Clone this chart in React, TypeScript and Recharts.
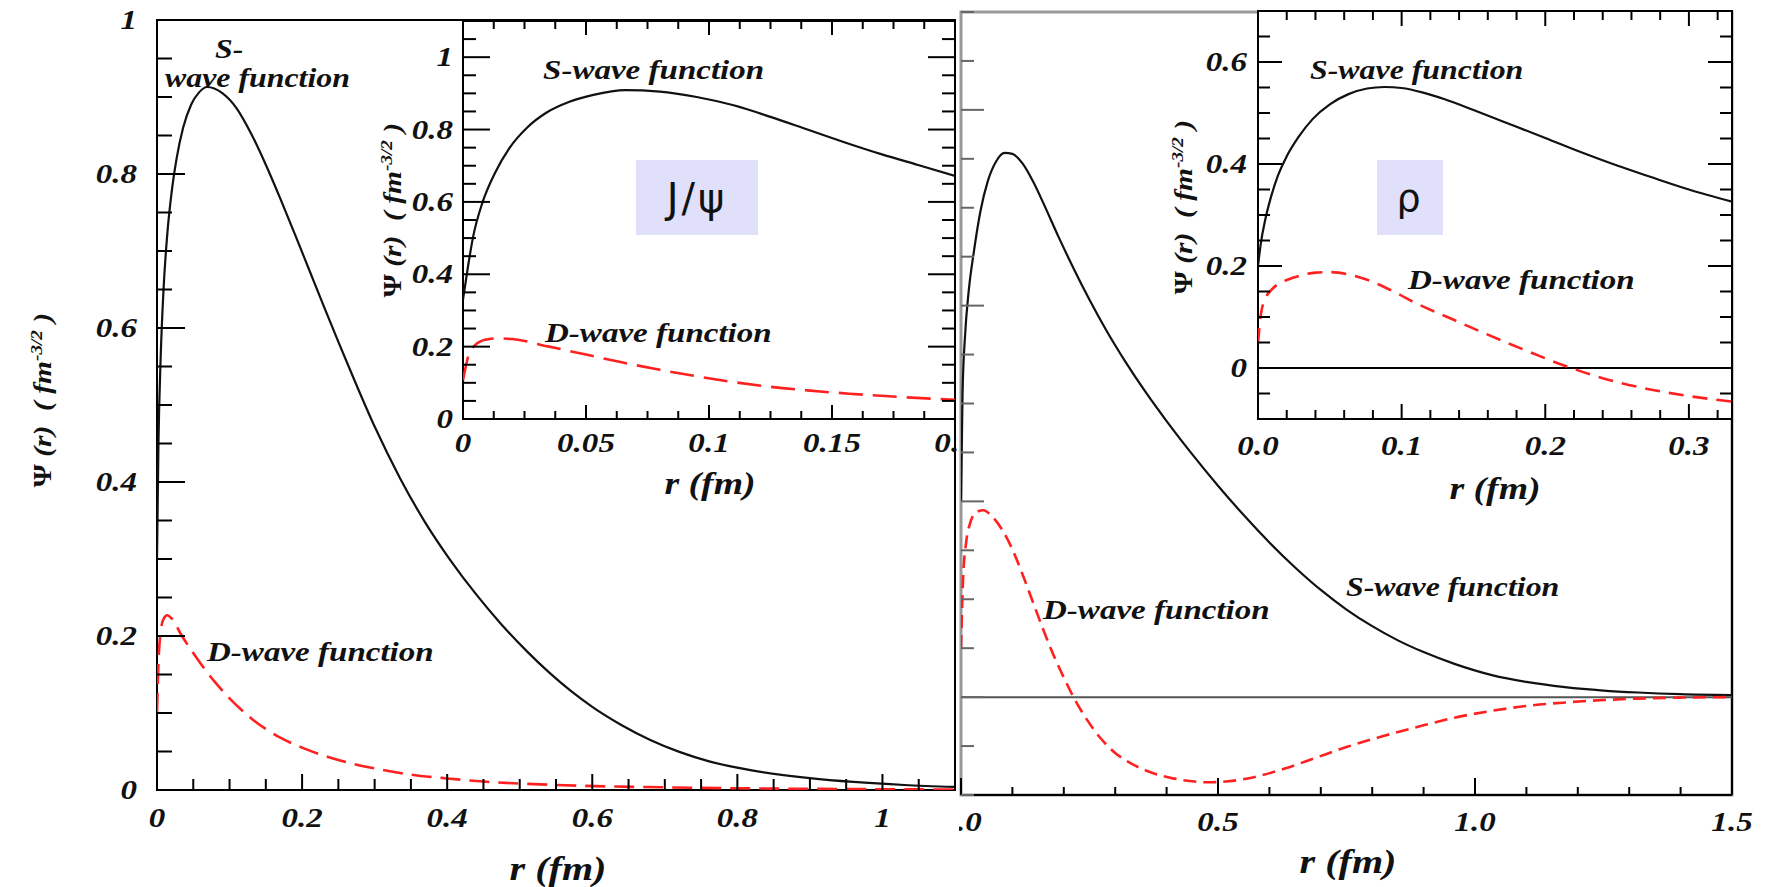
import { LineChart, Line, XAxis, YAxis, ReferenceArea, ReferenceLine, CartesianGrid } from "recharts";

// ---- J/psi wave functions, full range (r in fm, psi in fm^-3/2)
const jpsiS = [
  [0, 0.3], [0.002, 0.45], [0.005, 0.56], [0.009, 0.65], [0.014, 0.72], [0.02, 0.775], [0.027, 0.82],
  [0.036, 0.86], [0.047, 0.89], [0.058, 0.906], [0.069, 0.913], [0.09, 0.905], [0.11, 0.885],
  [0.13, 0.852], [0.15, 0.812], [0.17, 0.768], [0.19, 0.722], [0.21, 0.675], [0.23, 0.628],
  [0.25, 0.582], [0.27, 0.537], [0.3, 0.472], [0.335, 0.405], [0.37, 0.347], [0.404, 0.299],
  [0.44, 0.254], [0.473, 0.217], [0.51, 0.18], [0.54, 0.153], [0.57, 0.129], [0.6, 0.108],
  [0.64, 0.0845], [0.68, 0.065], [0.72, 0.0495], [0.76, 0.0375], [0.82, 0.0255], [0.9, 0.0155],
  [0.96, 0.0105], [1.03, 0.0065], [1.1, 0.004],
];
const jpsiD = [
  [0, 0.1], [0.002, 0.165], [0.005, 0.205], [0.009, 0.222], [0.014, 0.227], [0.02, 0.223],
  [0.035, 0.199], [0.05, 0.178], [0.065, 0.158], [0.08, 0.14], [0.1, 0.119], [0.13, 0.093],
  [0.17, 0.068], [0.2, 0.055], [0.25, 0.039], [0.3, 0.028], [0.35, 0.02], [0.4, 0.015],
  [0.45, 0.011], [0.55, 0.0065], [0.7, 0.0035], [0.85, 0.0018], [1.0, 0.001], [1.1, 0.0006],
];

// ---- J/psi inset (short range)
const jpsiInsetS = [
  [0, 0.33], [0.002, 0.42], [0.004, 0.5], [0.008, 0.6], [0.013, 0.68], [0.019, 0.75], [0.026, 0.805],
  [0.034, 0.847], [0.043, 0.876], [0.053, 0.896], [0.066, 0.909], [0.08, 0.905], [0.095, 0.89],
  [0.11, 0.867], [0.125, 0.835], [0.14, 0.8], [0.155, 0.765], [0.17, 0.732], [0.185, 0.702], [0.2, 0.672],
];
const jpsiInsetD = [
  [0, 0.107], [0.002, 0.17], [0.005, 0.205], [0.009, 0.219], [0.014, 0.223], [0.02, 0.221],
  [0.035, 0.2], [0.05, 0.178], [0.065, 0.156], [0.08, 0.136], [0.095, 0.118], [0.11, 0.102],
  [0.125, 0.089], [0.14, 0.079], [0.157, 0.07], [0.18, 0.06], [0.2, 0.053],
];

// ---- rho wave functions, full range
const rhoS = [
  [0, 0.2], [0.003, 0.31], [0.008, 0.37], [0.015, 0.415], [0.025, 0.455], [0.038, 0.497],
  [0.052, 0.527], [0.068, 0.547], [0.085, 0.556], [0.1, 0.555], [0.12, 0.545], [0.14, 0.527],
  [0.16, 0.505], [0.19, 0.47], [0.22, 0.437], [0.25, 0.406], [0.284, 0.3735], [0.32, 0.3425],
  [0.36, 0.311], [0.4, 0.282], [0.45, 0.248], [0.5, 0.216], [0.55, 0.186], [0.6, 0.158],
  [0.65, 0.1325], [0.7, 0.1095], [0.75, 0.0895], [0.8, 0.0725], [0.85, 0.058], [0.9, 0.046],
  [0.96, 0.034], [1.033, 0.0225], [1.1, 0.0155], [1.175, 0.0102], [1.25, 0.0067], [1.317, 0.0047],
  [1.4, 0.003], [1.5, 0.002],
];
const rhoD = [
  [0, 0.05], [0.004, 0.12], [0.01, 0.158], [0.018, 0.178], [0.03, 0.189], [0.043, 0.191],
  [0.06, 0.185], [0.08, 0.171], [0.1, 0.151], [0.12, 0.125], [0.14, 0.097], [0.16, 0.069],
  [0.18, 0.043], [0.2, 0.02], [0.218, 0.001], [0.245, -0.023], [0.27, -0.041], [0.3, -0.057],
  [0.335, -0.069], [0.37, -0.077], [0.412, -0.083], [0.45, -0.086], [0.479, -0.087], [0.52, -0.086],
  [0.576, -0.081], [0.63, -0.073], [0.69, -0.062], [0.75, -0.051], [0.82, -0.04], [0.891, -0.03],
  [0.96, -0.021], [1.033, -0.014], [1.1, -0.009], [1.175, -0.0055], [1.25, -0.003], [1.317, -0.0015],
  [1.4, -0.0005], [1.5, 0],
];

// ---- rho inset (short range)
const rhoInsetS = [
  [0, 0.2], [0.002, 0.245], [0.005, 0.29], [0.009, 0.335], [0.014, 0.378], [0.02, 0.415],
  [0.028, 0.452], [0.038, 0.488], [0.05, 0.517], [0.063, 0.537], [0.076, 0.548], [0.088, 0.551],
  [0.1, 0.549], [0.115, 0.54], [0.13, 0.527], [0.15, 0.506], [0.17, 0.484], [0.2, 0.451],
  [0.226, 0.422], [0.25, 0.397], [0.273, 0.375], [0.3, 0.35], [0.33, 0.326],
];
const rhoInsetD = [
  [0, 0.049], [0.002, 0.105], [0.005, 0.135], [0.01, 0.155], [0.018, 0.17], [0.028, 0.18],
  [0.04, 0.187], [0.05, 0.188], [0.062, 0.184], [0.076, 0.173], [0.093, 0.152], [0.11, 0.127],
  [0.135, 0.096], [0.157, 0.069], [0.185, 0.036], [0.215, 0.003], [0.245, -0.024], [0.273, -0.042],
  [0.3, -0.055], [0.33, -0.066],
];

// ---- labelled (major) ticks
const jpsiXLabels = [0, 0.2, 0.4, 0.6, 0.8, 1];
const jpsiYLabels = [0, 0.2, 0.4, 0.6, 0.8, 1];
const jpsiInsetXLabels = [0, 0.05, 0.1, 0.15, 0.2];
const jpsiInsetYLabels = [0, 0.2, 0.4, 0.6, 0.8, 1];
const rhoXLabels = [0, 0.5, 1, 1.5];
const rhoYMajors = [0, 0.2, 0.4, 0.6];
const rhoInsetXLabels = [0, 0.1, 0.2, 0.3];
const rhoInsetYLabels = [0, 0.2, 0.4, 0.6];

const pts = (a: number[][]) => a.map(([r, v]) => ({ r, v }));
const steps = (from: number, to: number, step: number) => {
  const n = Math.round((to - from) / step);
  return Array.from({ length: n + 1 }, (_, i) => +(from + i * step).toFixed(4));
};

const serif = '"Liberation Serif", "Times New Roman", serif';
const BLACK = "#111";
const RED = "#ff2020";
const SX = 1.18;

type TickCfg = {
  majors: number[];
  majorLen: number;
  minorLen: number;
  span?: number;
  gap: number;
  labels?: boolean;
  fmt?: (v: number) => string;
  color?: string;
};

const isMajor = (majors: number[], v: number) => majors.some((m) => Math.abs(m - v) < 1e-6);

function xTick(c: TickCfg) {
  return (p: any) => {
    const { x, y, payload } = p;
    const v = payload.value;
    const major = isMajor(c.majors, v);
    const len = major ? c.majorLen : c.minorLen;
    const col = c.color || "#000";
    return (
      <g>
        <line x1={x} x2={x} y1={y} y2={y - len} stroke={col} strokeWidth={2} />
        {c.span ? <line x1={x} x2={x} y1={y - c.span} y2={y - c.span + len} stroke={col} strokeWidth={2} /> : null}
        {major && c.labels !== false ? (
          <text transform={`translate(${x} ${y + c.gap}) scale(${SX} 1)`} textAnchor="middle" dominantBaseline="central"
            fontFamily={serif} fontStyle="italic" fontWeight="bold" fontSize={28} fill={BLACK}>
            {(c.fmt || String)(v)}
          </text>
        ) : null}
      </g>
    );
  };
}

function yTick(c: TickCfg) {
  return (p: any) => {
    const { x, y, payload } = p;
    const v = payload.value;
    const major = isMajor(c.majors, v);
    const len = major ? c.majorLen : c.minorLen;
    const col = c.color || "#000";
    return (
      <g>
        <line x1={x} x2={x + len} y1={y} y2={y} stroke={col} strokeWidth={2} />
        {c.span ? <line x1={x + c.span} x2={x + c.span - len} y1={y} y2={y} stroke={col} strokeWidth={2} /> : null}
        {major && c.labels !== false ? (
          <text transform={`translate(${x - c.gap} ${y}) scale(${SX} 1)`} textAnchor="end" dominantBaseline="central"
            fontFamily={serif} fontStyle="italic" fontWeight="bold" fontSize={28} fill={BLACK}>
            {(c.fmt || String)(v)}
          </text>
        ) : null}
      </g>
    );
  };
}

function Note({ x, y, size = 28, children }: { x: number; y: number; size?: number; children: any }) {
  return (
    <div style={{
      position: "absolute", left: x, top: y, fontFamily: serif, fontStyle: "italic", fontWeight: 700,
      fontSize: size, lineHeight: 1, whiteSpace: "nowrap", color: BLACK,
      transform: `translateY(-50%) scaleX(${SX})`, transformOrigin: "0 50%",
    }}>{children}</div>
  );
}

function AxisTitle({ x, y, size = 34 }: { x: number; y: number; size?: number }) {
  return (
    <div style={{
      position: "absolute", left: x, top: y, fontFamily: serif, fontStyle: "italic", fontWeight: 700,
      fontSize: size, lineHeight: 1, whiteSpace: "nowrap", color: BLACK,
      transform: `translate(-50%, -50%) scaleX(${SX})`,
    }}>r (fm)</div>
  );
}

function PsiTitle({ x, y, size = 25 }: { x: number; y: number; size?: number }) {
  return (
    <div style={{
      position: "absolute", left: x, top: y, fontFamily: serif, fontStyle: "italic", fontWeight: 700,
      fontSize: size, lineHeight: 1, whiteSpace: "nowrap", color: BLACK,
      transform: `translate(-50%, -50%) rotate(-90deg) scaleX(${SX})`,
    }}>
      <span style={{ fontStyle: "normal" }}>Ψ</span> (r)&nbsp;&nbsp;( fm<sup style={{ fontSize: "0.65em" }}>-3/2</sup> )
    </div>
  );
}

function Tag({ x, y, w, h, size, children }: { x: number; y: number; w: number; h: number; size: number; children: any }) {
  return (
    <div style={{
      position: "absolute", left: x, top: y, width: w, height: h, background: "#e0e0fa",
      display: "flex", alignItems: "center", justifyContent: "center",
      fontFamily: '"DejaVu Sans", sans-serif', fontSize: size, letterSpacing: 3, color: BLACK,
    }}>{children}</div>
  );
}

export default function App() {
  return (
    <div style={{ position: "absolute", left: 0, top: 0, width: 1769, height: 887, background: "#fff", overflow: "hidden" }}>
      {/* ---------- left panel: J/psi ---------- */}
      <div style={{ position: "absolute", left: 0, top: 0, width: 959, height: 887, overflow: "hidden" }}>
        <LineChart width={959} height={887} margin={{ top: 20, right: 4, bottom: 0, left: 0 }}>
          <XAxis dataKey="r" type="number" domain={[0, 1.1]} allowDataOverflow height={97}
            ticks={steps(0, 1.1, 0.05)} interval={0} tickSize={0} tickMargin={0} tickLine={false} axisLine={false}
            tick={xTick({ majors: jpsiXLabels, majorLen: 16, minorLen: 11, gap: 28 })} />
          <YAxis type="number" domain={[0, 1]} allowDataOverflow width={157}
            ticks={steps(0, 1, 0.05)} interval={0} tickSize={0} tickMargin={0} tickLine={false} axisLine={false}
            tick={yTick({ majors: jpsiYLabels, majorLen: 28, minorLen: 15, gap: 20 })} />
          <ReferenceArea x1={0} x2={1.1} y1={0} y2={1} fill="none" stroke="#000" strokeWidth={2} ifOverflow="visible" />
          <Line data={pts(jpsiS)} dataKey="v" type="monotone" dot={false} stroke={BLACK} strokeWidth={2.2} isAnimationActive={false} />
          <Line data={pts(jpsiD)} dataKey="v" type="monotone" dot={false} stroke={RED} strokeWidth={2.6} strokeDasharray="20 9" isAnimationActive={false} />
        </LineChart>

        <div style={{ position: "absolute", left: 360, top: 0 }}>
          <LineChart width={599} height={520} margin={{ top: 21, right: 4, bottom: 0, left: 0 }}>
            <CartesianGrid fill="#fff" horizontal={false} vertical={false} />
            <XAxis dataKey="r" type="number" domain={[0, 0.2]} allowDataOverflow height={101}
              ticks={steps(0, 0.2, 0.0125)} interval={0} tickSize={0} tickMargin={0} tickLine={false} axisLine={false}
              tick={xTick({ majors: jpsiInsetXLabels, majorLen: 14, minorLen: 8, gap: 24, span: 398 })} />
            <YAxis type="number" domain={[0, 1.1]} allowDataOverflow width={103}
              ticks={steps(0, 1.1, 0.05)} interval={0} tickSize={0} tickMargin={0} tickLine={false} axisLine={false}
              tick={yTick({ majors: jpsiInsetYLabels, majorLen: 27, minorLen: 13, gap: 10, span: 492 })} />
            <ReferenceArea x1={0} x2={0.2} y1={0} y2={1.1} fill="none" stroke="#000" strokeWidth={2} ifOverflow="visible" />
            <Line data={pts(jpsiInsetS)} dataKey="v" type="monotone" dot={false} stroke={BLACK} strokeWidth={2.2} isAnimationActive={false} />
            <Line data={pts(jpsiInsetD)} dataKey="v" type="monotone" dot={false} stroke={RED} strokeWidth={2.6} strokeDasharray="24 10" isAnimationActive={false} />
          </LineChart>
        </div>
      </div>

      {/* ---------- right panel: rho ---------- */}
      <div style={{ position: "absolute", left: 959, top: 0, width: 810, height: 887, overflow: "hidden" }}>
        <LineChart width={810} height={887} margin={{ top: 12, right: 37, bottom: 0, left: 0 }}>
          <XAxis dataKey="r" type="number" domain={[0, 1.5]} allowDataOverflow height={92}
            ticks={steps(0, 1.5, 0.1)} interval={0} tickSize={0} tickMargin={0} tickLine={false}
            axisLine={{ stroke: "#000", strokeWidth: 2 }}
            tick={xTick({ majors: rhoXLabels, majorLen: 17, minorLen: 8, gap: 27, fmt: (v) => v.toFixed(1) })} />
          <YAxis type="number" domain={[-0.1, 0.7]} allowDataOverflow width={2}
            ticks={steps(-0.1, 0.7, 0.05)} interval={0} tickSize={0} tickMargin={0} tickLine={false} axisLine={false}
            tick={yTick({ majors: rhoYMajors, majorLen: 23, minorLen: 13, gap: 10, labels: false, color: "#666" })} />
          <ReferenceArea x1={0} x2={1.5} y1={-0.1} y2={0.7} fill="none" stroke="#999" strokeWidth={3} ifOverflow="visible" />
          <ReferenceLine x={1.5} stroke="#000" strokeWidth={2} />
          <ReferenceLine y={0} stroke="#555" strokeWidth={2} />
          <Line data={pts(rhoS)} dataKey="v" type="monotone" dot={false} stroke={BLACK} strokeWidth={2.2} isAnimationActive={false} />
          <Line data={pts(rhoD)} dataKey="v" type="monotone" dot={false} stroke={RED} strokeWidth={2.6} strokeDasharray="13 7" isAnimationActive={false} />
        </LineChart>

        <div style={{ position: "absolute", left: 180, top: 0 }}>
          <LineChart width={630} height={520} margin={{ top: 11, right: 37, bottom: 0, left: 0 }}>
            <CartesianGrid fill="#fff" horizontal={false} vertical={false} />
            <XAxis dataKey="r" type="number" domain={[0, 0.33]} allowDataOverflow height={101}
              ticks={steps(0, 0.32, 0.02)} interval={0} tickSize={0} tickMargin={0} tickLine={false} axisLine={false}
              tick={xTick({ majors: rhoInsetXLabels, majorLen: 15, minorLen: 9, gap: 27, span: 408, fmt: (v) => v.toFixed(1) })} />
            <YAxis type="number" domain={[-0.1, 0.7]} allowDataOverflow width={119}
              ticks={steps(-0.1, 0.7, 0.05)} interval={0} tickSize={0} tickMargin={0} tickLine={false} axisLine={false}
              tick={yTick({ majors: rhoInsetYLabels, majorLen: 24, minorLen: 12, gap: 11, span: 474 })} />
            <ReferenceArea x1={0} x2={0.33} y1={-0.1} y2={0.7} fill="none" stroke="#000" strokeWidth={2} ifOverflow="visible" />
            <ReferenceLine y={0} stroke="#000" strokeWidth={2} />
            <Line data={pts(rhoInsetS)} dataKey="v" type="monotone" dot={false} stroke={BLACK} strokeWidth={2.2} isAnimationActive={false} />
            <Line data={pts(rhoInsetD)} dataKey="v" type="monotone" dot={false} stroke={RED} strokeWidth={2.6} strokeDasharray="15 9" isAnimationActive={false} />
          </LineChart>
        </div>
      </div>

      {/* ---------- text ---------- */}
      <Note x={215} y={49} size={27}>S-</Note>
      <Note x={165} y={78} size={27}>wave function</Note>
      <Note x={207} y={652}>D-wave function</Note>
      <Note x={543} y={70}>S-wave function</Note>
      <Note x={545} y={333}>D-wave function</Note>
      <Note x={1310} y={70} size={27}>S-wave function</Note>
      <Note x={1408} y={280}>D-wave function</Note>
      <Note x={1043} y={610}>D-wave function</Note>
      <Note x={1346} y={587} size={27}>S-wave function</Note>

      <Tag x={636} y={160} w={122} h={75} size={40}>J/ψ</Tag>
      <Tag x={1377} y={160} w={66} h={75} size={38}>ρ</Tag>

      <AxisTitle x={558} y={869} />
      <AxisTitle x={710} y={483} size={32} />
      <AxisTitle x={1495} y={488} size={32} />
      <AxisTitle x={1348} y={862} />

      <PsiTitle x={42} y={400} />
      <PsiTitle x={392} y={210} />
      <PsiTitle x={1183} y={207} />
    </div>
  );
}
